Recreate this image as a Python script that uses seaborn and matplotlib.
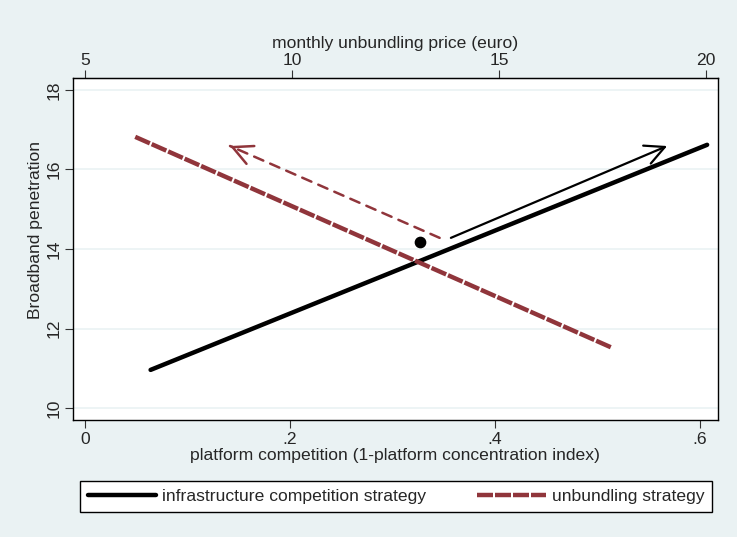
import numpy as np
import pandas as pd
import seaborn as sns
import matplotlib
matplotlib.use('Agg')
import matplotlib.pyplot as plt
from matplotlib.lines import Line2D

# line end points
x_infra = [0.064, 0.607]
y_infra = [10.96, 16.62]
x_unb = [0.049, 0.513]
y_unb = [16.82, 11.53]
dot_x = [0.327]
dot_y = [14.18]
# arrows (start -> tip)
arr_infra = [(0.357, 14.28), (0.568, 16.59)]
arr_unb = [(0.346, 14.28), (0.1415, 16.59)]

y_ticks = [10, 12, 14, 16, 18]
x_ticks = [0, 0.2, 0.4, 0.6]
x_ticklabels = ['0', '.2', '.4', '.6']
price_ticks = [5, 10, 15, 20]

bg = '#EAF2F3'
maroon = '#90353B'

sns.set_style('white')
plt.rcParams['font.family'] = ['Liberation Sans', 'DejaVu Sans']
fs = 12.6

df = pd.concat([
    pd.DataFrame({'x': x_infra, 'y': y_infra, 's': 'infrastructure competition strategy'}),
    pd.DataFrame({'x': x_unb, 'y': y_unb, 's': 'unbundling strategy'}),
])

fig = plt.figure(figsize=(7.37, 5.37), dpi=100, facecolor=bg)
ax = fig.add_axes([73/737, 1-420/537, 645/737, 342/537])
ax.set_facecolor('white')
for y in y_ticks:
    ax.axhline(y, color=bg, lw=1.2, zorder=0)

sns.lineplot(data=df, x='x', y='y', hue='s', style='s',
             palette={'infrastructure competition strategy': 'black', 'unbundling strategy': maroon},
             dashes={'infrastructure competition strategy': '', 'unbundling strategy': (3.6, 0.45)},
             lw=3.2, ax=ax, legend=False, sort=False)
ax.scatter(dot_x, dot_y, s=55, color='black', zorder=5)

head = '->,head_length=0.7,head_width=0.35'
ax.annotate('', xy=arr_infra[1], xytext=arr_infra[0],
            arrowprops=dict(arrowstyle=head, color='black',
                            lw=1.6, mutation_scale=20, shrinkA=0, shrinkB=0))
# dashed shaft, then a solid head on the last bit
ax.annotate('', xy=arr_unb[1], xytext=arr_unb[0],
            arrowprops=dict(arrowstyle='-', color=maroon,
                            lw=1.8, ls=(0, (4, 3)), shrinkA=0, shrinkB=0))
(x0, y0), (x1, y1) = arr_unb
ax.annotate('', xy=(x1, y1), xytext=(x1 + (x0 - x1) * 0.01, y1 + (y0 - y1) * 0.01),
            arrowprops=dict(arrowstyle=head, color=maroon,
                            lw=1.8, mutation_scale=20, shrinkA=0, shrinkB=0))

ax.set_xlim(-0.0117, 0.6176)
ax.set_ylim(9.70, 18.30)
ax.set_xticks(x_ticks)
ax.set_xticklabels(x_ticklabels, fontsize=fs)
ax.set_yticks(y_ticks)
ax.set_yticklabels([str(t) for t in y_ticks], fontsize=fs, rotation=90, va='center')
ax.tick_params(direction='out', length=6, width=0.8, color='#333333')
ax.tick_params(axis='x', bottom=True, pad=3)
ax.tick_params(axis='y', left=True, pad=2)
ax.set_xlabel('platform competition (1-platform concentration index)', fontsize=fs, labelpad=0.5)
ax.set_ylabel('Broadband penetration', fontsize=fs, labelpad=0)
ax.yaxis.set_label_coords(-0.046, 0.555)
for sp in ax.spines.values():
    sp.set_color('black')
    sp.set_linewidth(1)

k = 15 / 0.6059
sec = ax.secondary_xaxis('top', functions=(lambda x: 5 + x * k, lambda p: (p - 5) / k))
sec.set_xticks(price_ticks)
sec.set_xticklabels([str(t) for t in price_ticks], fontsize=fs)
sec.tick_params(direction='out', length=6, width=0.8, color='#333333', pad=1)
sec.set_xlabel('monthly unbundling price (euro)', fontsize=fs, labelpad=4)

handles = [Line2D([], [], color='black', lw=3.2),
           Line2D([], [], color=maroon, lw=3.2, dashes=(3.6, 0.45))]
leg = fig.legend(handles, ['infrastructure competition strategy', 'unbundling strategy'],
                 loc='upper left', bbox_to_anchor=(80/737, 1-481/537, 632/737, 0),
                 mode='expand', ncol=2, fontsize=fs, handlelength=3.9, handletextpad=0.35,
                 borderaxespad=0, fancybox=False, frameon=True, edgecolor='black',
                 facecolor='white', framealpha=1, borderpad=0.45)
leg.get_frame().set_linewidth(1)

fig.savefig('out.png', dpi=100, facecolor=bg)
